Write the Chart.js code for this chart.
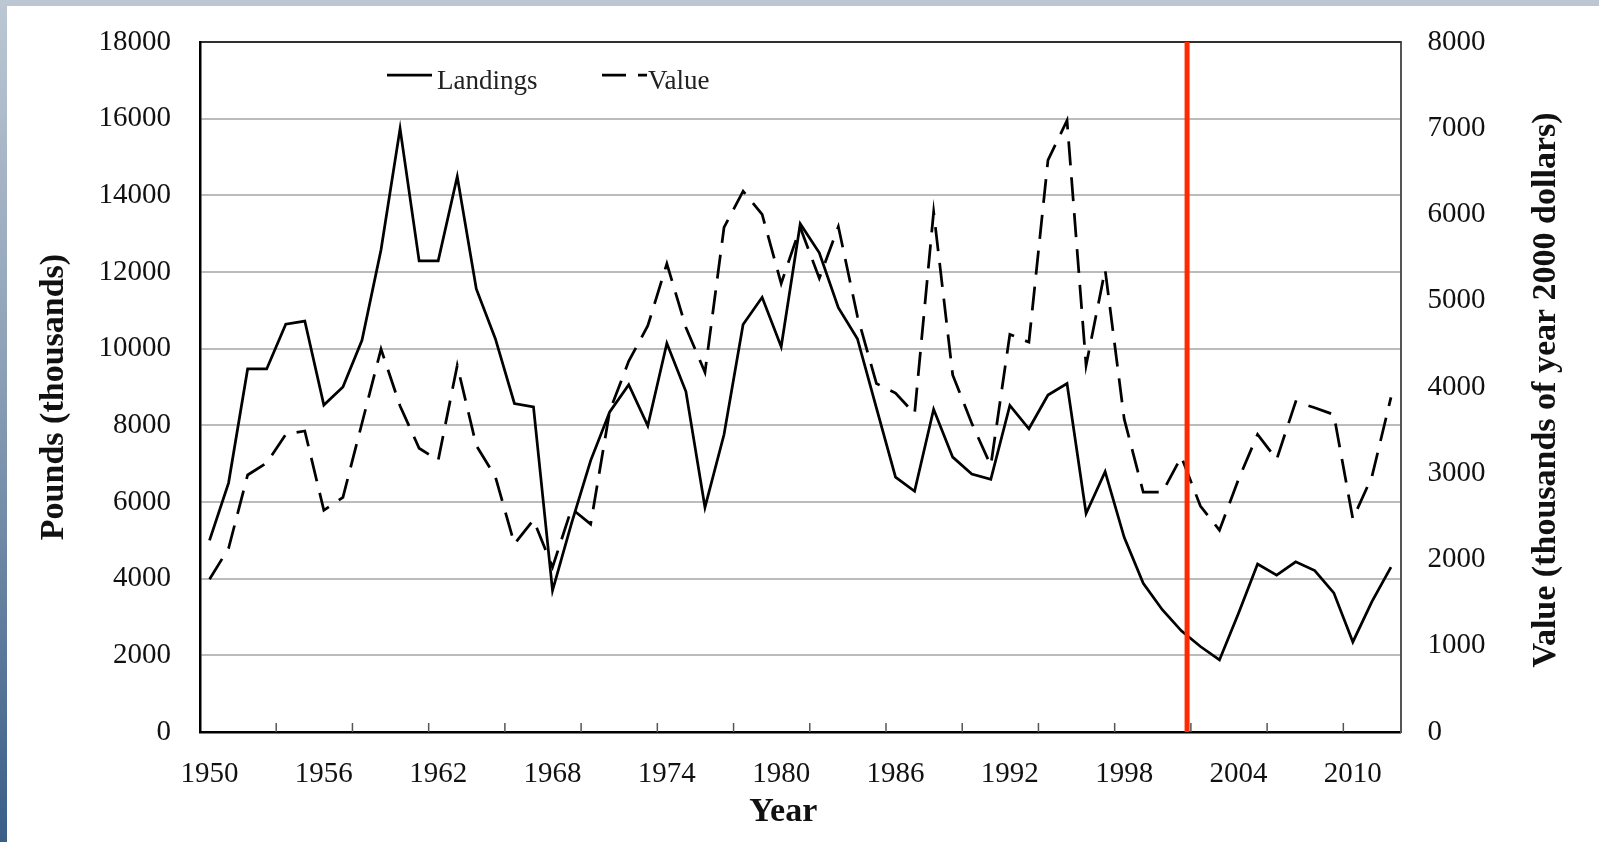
<!DOCTYPE html>
<html lang="en">
<head>
    <meta charset="UTF-8">
    <title>Landings and Value</title>
    <script src="https://cdn.jsdelivr.net/npm/chart.js"></script>
    <style>
        body {
            margin: 0;
            width: 1599px;
            height: 842px;
            overflow: hidden;
            background: linear-gradient(to bottom, #bcc7d3 0%, #8a9fb6 45%, #3a5e87 100%);
        }
        #wrap {
            position: absolute;
            left: 7px;
            top: 6px;
            width: 1592px;
            height: 836px;
            background: #fff;
        }
    </style>
</head>
<body>
    <div id="wrap"><canvas id="chart"></canvas></div>

    <script>
        const years = [];
        for (let y = 1950; y <= 2012; y++) years.push(String(y));

        // thousands of pounds
        const landings = [
            5000, 6500, 9470, 9470, 10640, 10720, 8530, 9000, 10220, 12580,
            15740, 12290, 12290, 14490, 11560, 10260, 8570, 8480, 3690, 5450,
            7080, 8350, 9060, 7990, 10140, 8880, 5860, 7760, 10630, 11340,
            10050, 13260, 12500, 11070, 10260, 8450, 6650, 6280, 8420, 7170,
            6730, 6590, 8520, 7910, 8790, 9090, 5700, 6790, 5080, 3880,
            3190, 2640, 2230, 1880, 3100, 4380, 4090, 4440, 4210, 3630,
            2350, 3400, 4300
        ];

        // thousands of year 2000 dollars
        const value = [
            1770, 2130, 2980, 3120, 3450, 3490, 2570, 2720, 3580, 4440,
            3780, 3290, 3150, 4250, 3320, 2960, 2180, 2460, 1910, 2590,
            2410, 3720, 4300, 4710, 5430, 4690, 4170, 5850, 6270, 6000,
            5200, 5850, 5260, 5860, 4820, 4040, 3930, 3690, 6030, 4140,
            3580, 3090, 4610, 4520, 6630, 7090, 4250, 5360, 3630, 2780,
            2780, 3190, 2620, 2340, 2930, 3450, 3160, 3830, 3760, 3680,
            2470, 2960, 3880
        ];

        const xTitle = 'Year';
        const leftTitle = 'Pounds (thousands)';
        const rightTitle = 'Value (thousands of year 2000 dollars)';
        const markerYear = '2001';
        const serif = 'Liberation Serif, Times New Roman, serif';
        const dash = [24, 12];

        function rotatedText(ctx, text, x, y) {
            ctx.save();
            ctx.translate(x, y);
            ctx.rotate(-Math.PI / 2);
            ctx.fillText(text, 0, 0);
            ctx.restore();
        }

        // top border, inward x tick marks, red marker, titles and the in-plot legend
        const extras = {
            id: 'extras',
            afterDraw(chart) {
                const {ctx, chartArea: a, scales: {x}} = chart;
                ctx.save();

                ctx.strokeStyle = '#000';
                ctx.lineWidth = 1.5;
                ctx.beginPath();
                ctx.moveTo(a.left, a.top);
                ctx.lineTo(a.right, a.top);
                ctx.stroke();

                ctx.strokeStyle = '#555';
                ctx.lineWidth = 1.5;
                for (let i = 4; i < years.length; i += 4) {
                    const px = (x.getPixelForValue(i - 1) + x.getPixelForValue(i)) / 2;
                    ctx.beginPath();
                    ctx.moveTo(px, a.bottom);
                    ctx.lineTo(px, a.bottom - 9);
                    ctx.stroke();
                }

                const mi = years.indexOf(markerYear);
                const p0 = x.getPixelForValue(mi), p1 = x.getPixelForValue(mi + 1);
                const mx = p0 + (p1 - p0) * 0.3;
                ctx.strokeStyle = '#ff2a00';
                ctx.lineWidth = 5;
                ctx.beginPath();
                ctx.moveTo(mx, a.top);
                ctx.lineTo(mx, a.bottom);
                ctx.stroke();

                // axis titles
                const mid = (a.top + a.bottom) / 2;
                const cx = (a.left + a.right) / 2;
                ctx.fillStyle = '#111';
                ctx.font = 'bold 34px ' + serif;
                ctx.textAlign = 'center';
                ctx.textBaseline = 'middle';
                ctx.fillText(xTitle, cx - 17, a.bottom + 80);
                rotatedText(ctx, leftTitle, a.left - 146, mid + 10);
                rotatedText(ctx, rightTitle, a.right + 146, mid + 3);

                // legend
                ctx.textAlign = 'left';
                ctx.lineWidth = 2.75;
                ctx.strokeStyle = '#000';
                ctx.font = '27px ' + serif;
                ctx.fillStyle = '#222';
                ctx.textBaseline = 'alphabetic';
                const ly = a.top + 33, ty = a.top + 47;
                ctx.beginPath();
                ctx.moveTo(a.left + 187, ly);
                ctx.lineTo(a.left + 232, ly);
                ctx.stroke();
                ctx.fillText(chart.data.datasets[0].label, a.left + 237, ty);

                ctx.setLineDash(dash);
                ctx.beginPath();
                ctx.moveTo(a.left + 402, ly);
                ctx.lineTo(a.left + 447, ly);
                ctx.stroke();
                ctx.setLineDash([]);
                ctx.fillText(chart.data.datasets[1].label, a.left + 448, ty);

                ctx.restore();
            }
        };

        const plain = v => String(v);
        const ctx = document.getElementById('chart').getContext('2d');

        new Chart(ctx, {
            type: 'line',
            data: {
                labels: years,
                datasets: [
                    {
                        label: 'Landings',
                        data: landings,
                        yAxisID: 'y',
                        borderColor: '#000',
                        borderWidth: 2.75,
                        pointRadius: 0,
                        tension: 0,
                        fill: false
                    },
                    {
                        label: 'Value',
                        data: value,
                        yAxisID: 'y1',
                        borderColor: '#000',
                        borderWidth: 2.75,
                        borderDash: dash,
                        pointRadius: 0,
                        tension: 0,
                        fill: false
                    }
                ]
            },
            options: {
                responsive: true,
                maintainAspectRatio: false,
                devicePixelRatio: 1,
                animation: false,
                layout: { padding: { top: 36, left: 0, right: 0, bottom: 0 } },
                plugins: {
                    legend: { display: false },
                    tooltip: { enabled: false }
                },
                scales: {
                    x: {
                        type: 'category',
                        offset: true,
                        afterFit: s => { s.height = 110; },
                        grid: { display: false, drawTicks: false },
                        border: { display: true, color: '#000', width: 2.5 },
                        ticks: {
                            autoSkip: false,
                            maxRotation: 0,
                            padding: 25,
                            color: '#111',
                            font: { family: serif, size: 29 },
                            callback: (v, i) => (i % 6 === 0 ? years[i] : '')
                        }
                    },
                    y: {
                        position: 'left',
                        min: 0,
                        max: 18000,
                        afterFit: s => { s.width = 193; },
                        grid: {
                            color: '#bbbbbb',
                            lineWidth: 2,
                            drawTicks: true,
                            tickLength: 18,
                            tickColor: 'rgba(0,0,0,0)'
                        },
                        border: { display: true, color: '#000', width: 2.5 },
                        ticks: {
                            stepSize: 2000,
                            padding: 11,
                            color: '#111',
                            font: { family: serif, size: 29 },
                            callback: plain
                        }
                    },
                    y1: {
                        position: 'right',
                        min: 0,
                        max: 8000,
                        afterFit: s => { s.width = 198.5; },
                        grid: {
                            drawOnChartArea: false,
                            drawTicks: true,
                            tickLength: 17,
                            tickColor: 'rgba(0,0,0,0)'
                        },
                        border: { display: true, color: '#555', width: 2 },
                        ticks: {
                            stepSize: 1000,
                            padding: 10,
                            color: '#111',
                            font: { family: serif, size: 29 },
                            callback: plain
                        }
                    }
                }
            },
            plugins: [extras]
        });
    </script>
</body>
</html>
